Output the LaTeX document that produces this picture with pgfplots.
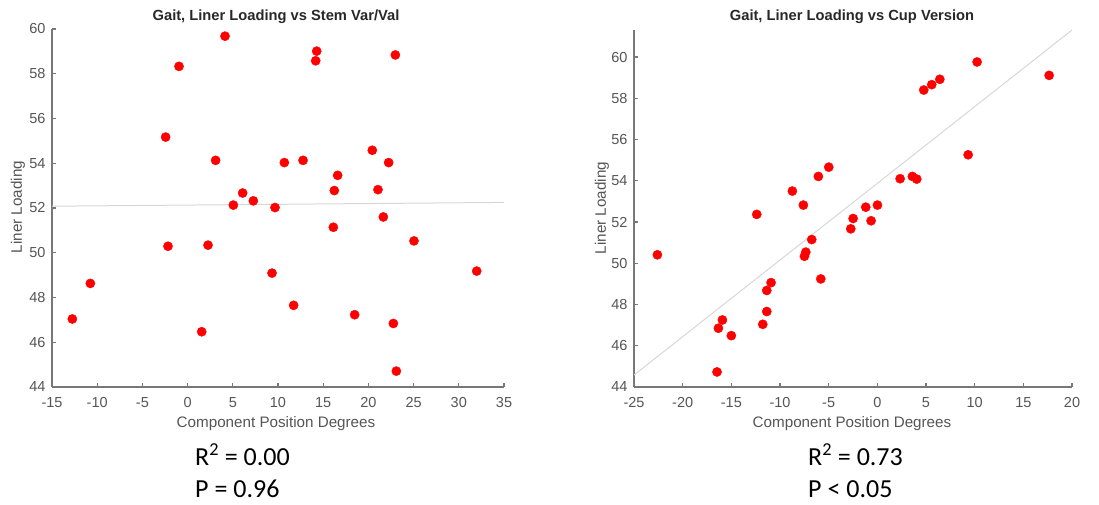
\documentclass[border=0pt]{standalone}
\usepackage{pgfplots}
\pgfplotsset{compat=1.18}
\usepackage{fontspec}
\setmainfont{Liberation Sans}
\newfontfamily\carlito{Carlito}
\definecolor{axgray}{RGB}{120,120,120}
\definecolor{txtgray}{RGB}{85,85,85}
\definecolor{titlegray}{RGB}{40,40,40}
\definecolor{fitgray}{RGB}{215,215,215}
\pgfplotsset{
  mystyle/.style={
    scale only axis,
    axis x line*=bottom,
    axis y line*=left,
    axis line style={axgray, line width=1.5pt},
    major tick style={axgray, line width=1.2pt},
    major tick length=4pt,
    tick align=inside,
    ticklabel style={font=\fontsize{14.5}{15}\selectfont, text=txtgray},
    xticklabel style={yshift=-7pt},
    yticklabel style={xshift=-3pt},
    /pgf/number format/assume math mode=true,
    clip=false,
    anchor=south west,
  },
  pts/.style={only marks, mark=*, mark size=4.6pt, color=red, fill=red},
}
\begin{document}
\begin{tikzpicture}[x=1pt,y=1pt]
\path (0,0) rectangle (1099,504);
% ---------- left ----------
\begin{axis}[mystyle,
  at={(52pt,117pt)}, width=452pt, height=358pt,
  xmin=-15, xmax=35, ymin=44, ymax=60,
  xtick={-15,-10,...,35}, ytick={44,46,...,60},
]
\addplot[fitgray, line width=1pt] coordinates {(-15,52.08) (35,52.25)};
\addplot[pts] coordinates {
(4.14,59.68) (-0.95,58.33) (14.28,59.01) (14.17,58.58) (22.98,58.84)
(-2.43,55.17) (3.10,54.13) (10.70,54.03) (12.77,54.13) (20.43,54.58)
(22.24,54.03) (16.60,53.46) (6.09,52.67) (16.23,52.78) (21.06,52.82)
(7.27,52.32) (5.06,52.13) (9.67,52.02) (21.65,51.60) (16.12,51.14)
(-2.17,50.29) (2.26,50.34) (25.04,50.53) (9.34,49.09) (31.98,49.18)
(-10.76,48.63) (11.73,47.65) (-12.75,47.04) (18.48,47.23) (1.56,46.47)
(22.76,46.84) (23.09,44.71)
};
\end{axis}
% ---------- right ----------
\begin{axis}[mystyle,
  at={(634pt,117pt)}, width=438pt, height=357pt,
  xmin=-25, xmax=20, ymin=44, ymax=61.31,
  xtick={-25,-20,...,20}, ytick={44,46,...,60},
]
\addplot[fitgray, line width=1pt] coordinates {(-25,44.58) (20,61.31)};
\addplot[pts] coordinates {
(10.25,59.76) (17.65,59.11) (6.42,58.92) (5.59,58.66) (4.77,58.40)
(9.33,55.26) (-4.99,54.66) (-6.06,54.21) (2.34,54.10) (3.60,54.21)
(4.05,54.08) (-8.73,53.50) (-7.60,52.82) (-12.39,52.37) (-1.19,52.72)
(0.01,52.82) (-2.49,52.17) (-0.64,52.06) (-2.73,51.67) (-6.74,51.15)
(-7.35,50.54) (-7.49,50.34) (-22.60,50.41) (-5.81,49.24) (-10.92,49.06)
(-11.36,48.68) (-11.36,47.66) (-11.77,47.04) (-15.92,47.25) (-16.33,46.85)
(-15.00,46.49) (-16.47,44.73)
};
\end{axis}
% ---------- titles and labels ----------
\node[font=\bfseries\fontsize{14.7}{15}\selectfont, text=titlegray] at (276,487) {Gait, Liner Loading vs Stem Var/Val};
\node[font=\bfseries\fontsize{14.7}{15}\selectfont, text=titlegray] at (852,487) {Gait, Liner Loading vs Cup Version};
\node[font=\fontsize{15.2}{16}\selectfont, text=txtgray] at (276,80) {Component Position Degrees};
\node[font=\fontsize{15.2}{16}\selectfont, text=txtgray] at (852,80) {Component Position Degrees};
\node[font=\fontsize{15.2}{16}\selectfont, text=txtgray, rotate=90] at (18,297) {Liner Loading};
\node[font=\fontsize{15.2}{16}\selectfont, text=txtgray, rotate=90] at (602,296) {Liner Loading};
% ---------- statistics ----------
\node[font=\carlito\fontsize{26}{28}\selectfont, anchor=base west, inner sep=0pt] at (195,39) {R\textsuperscript{2} = 0.00};
\node[font=\carlito\fontsize{26}{28}\selectfont, anchor=base west, inner sep=0pt] at (195,7) {P = 0.96};
\node[font=\carlito\fontsize{26}{28}\selectfont, anchor=base west, inner sep=0pt] at (808,39) {R\textsuperscript{2} = 0.73};
\node[font=\carlito\fontsize{26}{28}\selectfont, anchor=base west, inner sep=0pt] at (808,7) {P < 0.05};
\end{tikzpicture}
\end{document}
